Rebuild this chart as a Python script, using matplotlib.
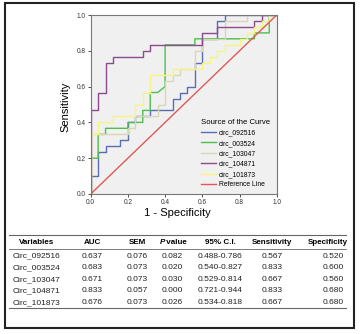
import matplotlib
matplotlib.use("Agg")
import matplotlib.pyplot as plt
from matplotlib.lines import Line2D
from matplotlib.patches import Rectangle

plt.rcParams['font.family'] = ['Liberation Sans', 'DejaVu Sans']

# ROC curves (1 - specificity, sensitivity) vertices
names = ["circ_092516", "circ_003524", "circ_103047", "circ_104871", "circ_101873"]
fpr_092516 = [0, 0, .04, .04, .08, .08, .16, .16, .2, .2, .24, .24, .32, .32, .44, .44, .48, .48, .52, .52, .56, .56, .6, .6, .68, .68, .72, .72, 1]
tpr_092516 = [0, .1, .1, .233, .233, .267, .267, .3, .3, .4, .4, .433, .433, .467, .467, .533, .533, .567, .567, .6, .6, .733, .733, .867, .867, .967, .967, 1, 1]
fpr_003524 = [0, 0, .04, .04, .08, .08, .2, .2, .28, .28, .32, .32, .36, .4, .4, .56, .56, .88, .88, .96, .96, 1]
tpr_003524 = [0, .2, .2, .333, .333, .367, .367, .4, .4, .467, .467, .567, .567, .6, .833, .833, .867, .867, .9, .9, 1, 1]
fpr_103047 = [0, 0, .2, .2, .24, .24, .36, .36, .4, .4, .44, .44, .48, .48, .56, .56, .6, .6, .72, .72, .84, .84, 1]
tpr_103047 = [0, .333, .333, .367, .367, .433, .433, .5, .5, .633, .633, .667, .667, .7, .7, .8, .8, .867, .867, .967, .967, 1, 1]
fpr_104871 = [0, 0, .04, .04, .08, .08, .12, .12, .28, .28, .32, .32, .6, .6, .68, .68, .88, .88, .92, .92, 1]
tpr_104871 = [0, .467, .467, .567, .567, .733, .733, .767, .767, .8, .8, .833, .833, .9, .9, .933, .933, .967, .967, 1, 1]
fpr_101873 = [0, 0, .04, .04, .12, .12, .24, .24, .28, .28, .32, .32, .44, .44, .6, .6, .64, .64, .68, .68, .72, .72, .8, .8, .84, .84, .88, .88, .92, .92, .96, .96, 1]
tpr_101873 = [0, .333, .333, .4, .4, .433, .433, .5, .5, .567, .567, .667, .667, .7, .7, .733, .733, .767, .767, .8, .8, .833, .833, .867, .867, .9, .9, .933, .933, .967, .967, 1, 1]
ref_line = [0, 1]
ticks = [0.0, 0.2, 0.4, 0.6, 0.8, 1.0]

# Table data
col_headers = ["Variables", "AUC", "SEM", "P value", "95% C.I.", "Sensitivity", "Specificity"]
variables = ["Circ_092516", "Circ_003524", "Circ_103047", "Circ_104871", "Circ_101873"]
auc = ["0.637", "0.683", "0.671", "0.833", "0.676"]
sem = ["0.076", "0.073", "0.073", "0.057", "0.073"]
pval = ["0.082", "0.020", "0.030", "0.000", "0.026"]
ci = ["0.488-0.786", "0.540-0.827", "0.529-0.814", "0.721-0.944", "0.534-0.818"]
sens = ["0.567", "0.833", "0.667", "0.833", "0.667"]
spec = ["0.520", "0.600", "0.560", "0.680", "0.680"]

W, H = 362, 334
fig = plt.figure(figsize=(W / 100, H / 100), dpi=100)
fig.patch.set_facecolor("white")

def fx(px):
    return px / W

def fy(py):
    return 1 - py / H

ax = fig.add_axes([fx(90.7), fy(194), fx(276.7) - fx(90.7), fy(15) - fy(194)])
ax.set_facecolor("#f0f0f0")
colors = ["#5b6db3", "#4cc04c", "#d9d6b4", "#8c4b8f", "#f6f57f"]
curves = [(fpr_092516, tpr_092516), (fpr_003524, tpr_003524), (fpr_103047, tpr_103047),
          (fpr_104871, tpr_104871), (fpr_101873, tpr_101873)]
handles = []
for (x, y), c, n in zip(curves, colors, names):
    h, = ax.plot(x, y, color=c, lw=1.0, label=n)
    handles.append(h)
h, = ax.plot(ref_line, ref_line, color="#df5a55", lw=1.0, label="Reference Line")
handles.append(h)

ax.set_xlim(0, 1)
ax.set_ylim(0, 1)
ax.set_xticks(ticks)
ax.set_yticks(ticks)
ax.set_xticklabels([f"{t:.1f}" for t in ticks])
ax.set_yticklabels([f"{t:.1f}" for t in ticks])
ax.tick_params(labelsize=4.7, length=2, width=0.6, pad=1.5, colors="#333333")
for s in ax.spines.values():
    s.set_color("#777777")
    s.set_linewidth(0.8)

fig.text(fx(65), fy(107), "Sensitivity", rotation=90, fontsize=8, ha="center", va="center")
fig.text(fx(177.5), fy(213), "1 - Specificity", fontsize=8, ha="center", va="center")

leg = ax.legend(handles=handles, title="Source of the Curve", frameon=False,
                loc="upper left", bbox_to_anchor=(fx(201), fy(119)), bbox_transform=fig.transFigure,
                fontsize=4.9, title_fontsize=5.6, handlelength=2.2, handletextpad=0.4,
                labelspacing=0.5, borderaxespad=0, borderpad=0)
leg._legend_box.align = "left"

# Table
col_x = [36.7, 92, 137, 172, 220, 272, 328]
val_x = [36.7, 92, 137, 172, 220, 272, 333]
for hdr, cx in zip(col_headers, col_x):
    if hdr == "P value":
        fig.text(fx(cx - 12), fy(242.5), "P", fontsize=5.8, fontweight="bold", fontstyle="italic",
                 ha="left", va="center")
        fig.text(fx(cx - 7.5), fy(242.5), " value", fontsize=5.8, fontweight="bold", ha="left", va="center")
    else:
        fig.text(fx(cx), fy(242.5), hdr, fontsize=5.8, fontweight="bold", ha="center", va="center")

row_y = [256, 267.7, 279.3, 291, 302.7]
for r, ry in enumerate(row_y):
    vals = [variables[r], auc[r], sem[r], pval[r], ci[r], sens[r], spec[r]]
    for v, cx in zip(vals, val_x):
        fig.text(fx(cx), fy(ry), v, fontsize=6, ha="center", va="center", color="#222222")

for ly, lw in [(235, 0.8), (249, 0.6), (308, 0.8)]:
    fig.add_artist(Line2D([fx(9), fx(346)], [fy(ly), fy(ly)], color="#666666", lw=lw,
                          transform=fig.transFigure))

fig.add_artist(Rectangle((fx(5), fy(328)), fx(354) - fx(5), fy(3) - fy(328), fill=False,
                         edgecolor="#222222", lw=1.5, transform=fig.transFigure))

fig.savefig("out.png", dpi=100)
